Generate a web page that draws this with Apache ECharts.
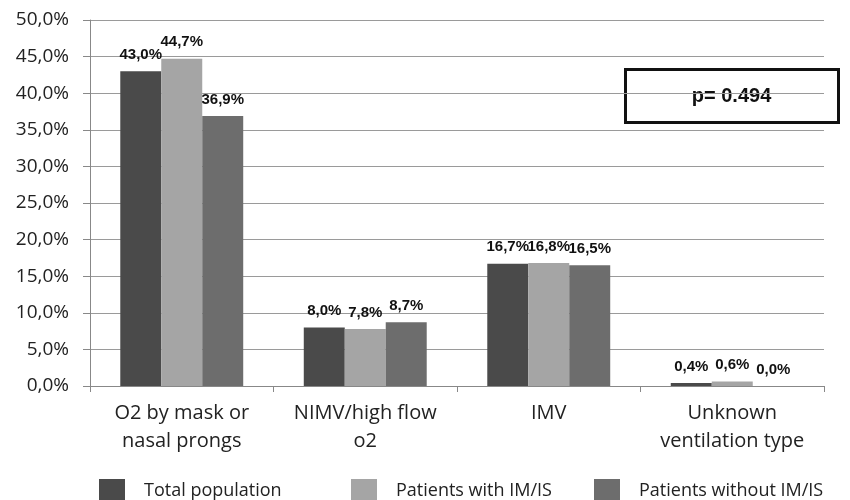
<!DOCTYPE html>
<html lang="en">
  <head>
    <meta charset="UTF-8" />
    <title>Ventilation type</title>
    <script src="https://cdn.jsdelivr.net/npm/echarts@6/dist/echarts.min.js"></script>
  </head>
  <style>
    html,
    body {
      margin: 0;
      padding: 0;
      background: #fff;
    }
    #echart {
      width: 850px;
      height: 500px;
    }
  </style>
  <body>
    <div id="echart"></div>
  </body>
  <script>
    const categories = [
      "O2 by mask or\nnasal prongs",
      "NIMV/high flow\no2",
      "IMV",
      "Unknown\nventilation type",
    ];
    const totalPopulation = [43.0, 8.0, 16.7, 0.4];
    const withIMIS = [44.7, 7.8, 16.8, 0.6];
    const withoutIMIS = [36.9, 8.7, 16.5, 0.0];
    const seriesNames = [
      "Total population",
      "Patients with IM/IS",
      "Patients without IM/IS",
    ];
    const colors = ["#4a4a4a", "#a5a5a5", "#6d6d6d"];
    const pText = "p= 0.494";

    const chart = echarts.init(document.getElementById("echart"));

    const fmt = (v) => v.toFixed(1).replace(".", ",") + "%";

    const makeSeries = (name, data, i) => ({
      name: name,
      type: "bar",
      data: data,
      barGap: "0%",
      barCategoryGap: "33%",
      itemStyle: { color: colors[i] },
      label: {
        show: true,
        position: "top",
        distance: 9,
        formatter: (p) => fmt(p.value),
        fontFamily: "Liberation Sans",
        fontWeight: "bold",
        fontSize: 15,
        color: "#111",
      },
    });

    // legend squares start at these x positions
    const legendLefts = [99, 351, 594];

    const option = {
      animation: false,
      backgroundColor: "#fff",
      grid: { left: 90, right: 26, top: 20, bottom: 114 },
      xAxis: {
        type: "category",
        data: categories,
        axisLine: { lineStyle: { color: "#888" } },
        axisTick: { show: true, length: 6, lineStyle: { color: "#888" } },
        axisLabel: {
          interval: 0,
          fontFamily: "Open Sans",
          fontSize: 20,
          color: "#222",
          lineHeight: 28,
          margin: 13,
        },
      },
      yAxis: {
        type: "value",
        min: 0,
        max: 50,
        interval: 5,
        axisLine: { show: true, lineStyle: { color: "#888" } },
        axisTick: { show: true, length: 7, lineStyle: { color: "#888" } },
        splitLine: { lineStyle: { color: "#9a9a9a" } },
        axisLabel: {
          formatter: (v) => fmt(v),
          fontFamily: "Open Sans",
          fontSize: 19,
          color: "#222",
          margin: 21,
        },
      },
      legend: seriesNames.map((n, i) => ({
        data: [n],
        left: legendLefts[i],
        top: 479,
        padding: 0,
        itemWidth: 26,
        itemHeight: 24,
        itemGap: 0,
        icon: "rect",
        textStyle: {
          fontFamily: "Open Sans",
          fontSize: 18,
          color: "#222",
          padding: [0, 0, 0, 14],
        },
      })),
      graphic: [
        {
          type: "group",
          left: 624,
          top: 68,
          children: [
            {
              type: "rect",
              shape: { x: 0, y: 0, width: 213, height: 53 },
              style: { fill: "#fff", stroke: "#111", lineWidth: 3 },
            },
            {
              type: "text",
              x: 106,
              y: 27,
              style: {
                text: pText,
                align: "center",
                verticalAlign: "middle",
                fontFamily: "Liberation Sans",
                fontWeight: "bold",
                fontSize: 20,
                fill: "#111",
              },
            },
          ],
        },
      ],
      series: [
        makeSeries(seriesNames[0], totalPopulation, 0),
        makeSeries(seriesNames[1], withIMIS, 1),
        makeSeries(seriesNames[2], withoutIMIS, 2),
      ],
    };

    chart.setOption(option);
  </script>
</html>
